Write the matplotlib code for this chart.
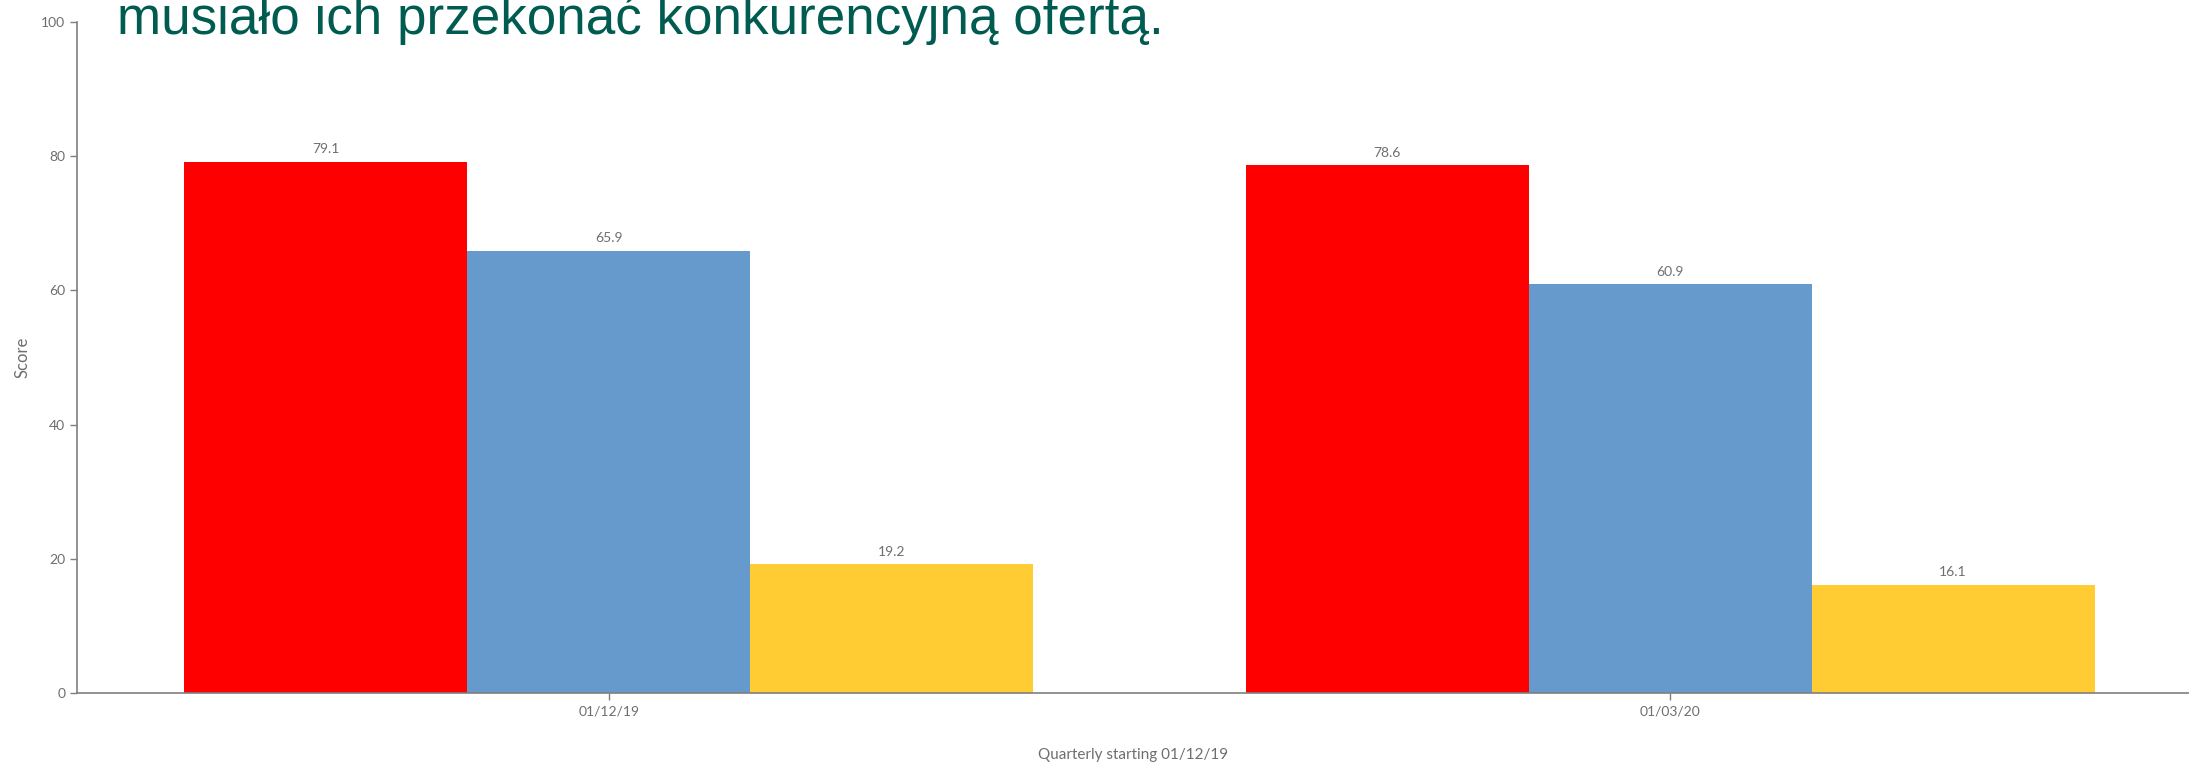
import matplotlib

matplotlib.use("Agg")
import matplotlib.pyplot as plt
import numpy as np

plt.rcParams["font.family"] = ["Lato", "DejaVu Sans"]

# quarterly scores, three series per quarter
quarters = ["01/12/19", "01/03/20"]
series_red = [79.1, 78.6]
series_blue = [65.9, 60.9]
series_yellow = [19.2, 16.1]
series_colors = ["#ff0000", "#6699cc", "#ffcc33"]

title_text = "musiało ich przekonać konkurencyjną ofertą."
y_label = "Score"
x_label = "Quarterly starting 01/12/19"

GREY = "#7f7f7f"
TEXT_GREY = "#6e6e6e"

fig = plt.figure(figsize=(21.89, 7.65), dpi=100)
ax = fig.add_axes([0.0352, 0.0937, 0.9648, 0.878])

x = np.arange(len(quarters))
width = 0.8 / 3
for i, (vals, col) in enumerate(zip([series_red, series_blue, series_yellow], series_colors)):
    offs = (i - 1) * width
    bars = ax.bar(x + offs, vals, width=width, color=col, edgecolor="none", zorder=2)
    for b, v in zip(bars, vals):
        ax.text(b.get_x() + b.get_width() / 2, v + 1.0, f"{v:.1f}",
                ha="center", va="bottom", fontsize=10, color=TEXT_GREY)

ax.set_xlim(-0.501, 1.489)
ax.set_ylim(0, 100)
ax.set_yticks(np.arange(0, 101, 20))
ax.set_xticks(x)
ax.set_xticklabels(quarters)

for side in ("top", "right"):
    ax.spines[side].set_visible(False)
for side in ("left", "bottom"):
    ax.spines[side].set_color(GREY)
    ax.spines[side].set_linewidth(1.2)

ax.tick_params(axis="both", colors=GREY, labelcolor=TEXT_GREY, labelsize=10, length=5, width=1)
ax.set_ylabel(y_label, fontsize=12, color=TEXT_GREY, labelpad=8)
ax.set_xlabel(x_label, fontsize=11, color=TEXT_GREY, labelpad=22)

fig.text(0.0535, 0.956, title_text, fontsize=38.2, color="#005b50",
         family=["Liberation Sans", "DejaVu Sans"], ha="left", va="baseline")

fig.savefig("out.png", dpi=100)
